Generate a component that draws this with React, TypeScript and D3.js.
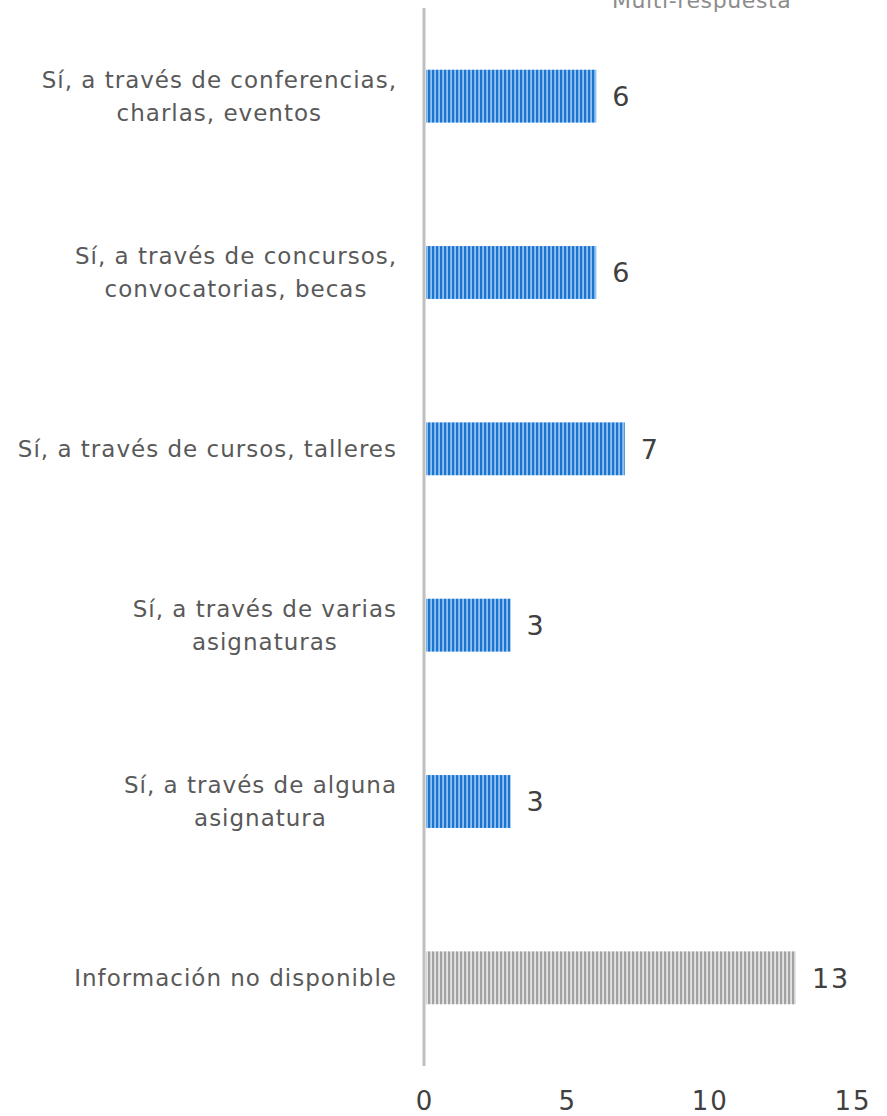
import React from "react";
import * as d3 from "d3";

const categories: string[][] = [
  ["Sí, a través de conferencias,", "charlas, eventos"],
  ["Sí, a través de concursos,", "convocatorias, becas"],
  ["Sí, a través de cursos, talleres"],
  ["Sí, a través de varias", "asignaturas"],
  ["Sí, a través de alguna", "asignatura"],
  ["Información no disponible"],
];
const values: number[] = [6, 6, 7, 3, 3, 13];
const patterns: string[] = ["blue", "blue", "blue", "blue", "blue", "gray"];
const xTicks: number[] = [0, 5, 10, 15];
const note = "Multi-respuesta";

const W = 887;
const H = 1116;
const FONT = "'DejaVu Sans', sans-serif";
const LABEL_SIZE = 23;
const LABEL_SPACING = 1;

let ctx: CanvasRenderingContext2D | null = null;
function measure(s: string): number {
  if (!ctx) {
    const c = document.createElement("canvas");
    ctx = c.getContext("2d");
  }
  if (!ctx) return s.length * LABEL_SIZE * 0.55;
  ctx.font = `${LABEL_SIZE}px 'DejaVu Sans', sans-serif`;
  return ctx.measureText(s).width + s.length * LABEL_SPACING;
}

export default function App() {
  const x = d3.scaleLinear().domain([0, 15]).range([425, 853]);
  const y = d3
    .scaleBand<number>()
    .domain(categories.map((_, i) => i))
    .range([8, 1066])
    .paddingInner(0.7)
    .paddingOuter(0.35);

  const labelRight = 397;

  return (
    <svg
      width={W}
      height={H}
      style={{ position: "absolute", left: 0, top: 0, background: "#fff" }}
    >
      <defs>
        <pattern id="blue" patternUnits="userSpaceOnUse" width={4} height={4}>
          <rect width={4} height={4} fill="#8fc2ef" />
          <rect width={2.2} height={4} fill="#1c74d0" />
        </pattern>
        <pattern id="gray" patternUnits="userSpaceOnUse" width={4} height={4}>
          <rect width={4} height={4} fill="#e4e4e4" />
          <rect width={2.2} height={4} fill="#a2a2a2" />
        </pattern>
      </defs>

      <text
        x={612}
        y={8}
        fontFamily={FONT}
        fontSize={22}
        letterSpacing={0.6}
        fill="#8c8c8c"
      >
        {note}
      </text>

      {values.map((v, i) => {
        const y0 = y(i)!;
        const bh = y.bandwidth();
        const cy = y0 + bh / 2;
        const lines = categories[i];
        const lh = 33;
        const blockW = Math.max(...lines.map(measure));
        const cx = labelRight - blockW / 2;
        return (
          <g key={i}>
            <rect
              x={x(0) + 1}
              y={y0}
              width={x(v) - x(0) - 1}
              height={bh}
              fill={`url(#${patterns[i]})`}
            />
            <text
              x={x(v) + 16}
              y={cy}
              dy="0.36em"
              fontFamily={FONT}
              fontSize={27}
              letterSpacing={2}
              fill="#404040"
            >
              {v}
            </text>
            {lines.map((l, j) => (
              <text
                key={j}
                x={lines.length > 1 ? cx : labelRight}
                y={cy + (j - (lines.length - 1) / 2) * lh}
                dy="0.36em"
                textAnchor={lines.length > 1 ? "middle" : "end"}
                fontFamily={FONT}
                fontSize={LABEL_SIZE}
                letterSpacing={LABEL_SPACING}
                fill="#595959"
              >
                {l}
              </text>
            ))}
          </g>
        );
      })}

      <line
        x1={x(0) - 1}
        x2={x(0) - 1}
        y1={8}
        y2={1066}
        stroke="#bfbfbf"
        strokeWidth={3}
      />

      {xTicks.map((t) => (
        <text
          key={t}
          x={x(t)}
          y={1101}
          dy="0.36em"
          textAnchor="middle"
          fontFamily={FONT}
          fontSize={26}
          letterSpacing={2}
          fill="#404040"
        >
          {t}
        </text>
      ))}
    </svg>
  );
}
